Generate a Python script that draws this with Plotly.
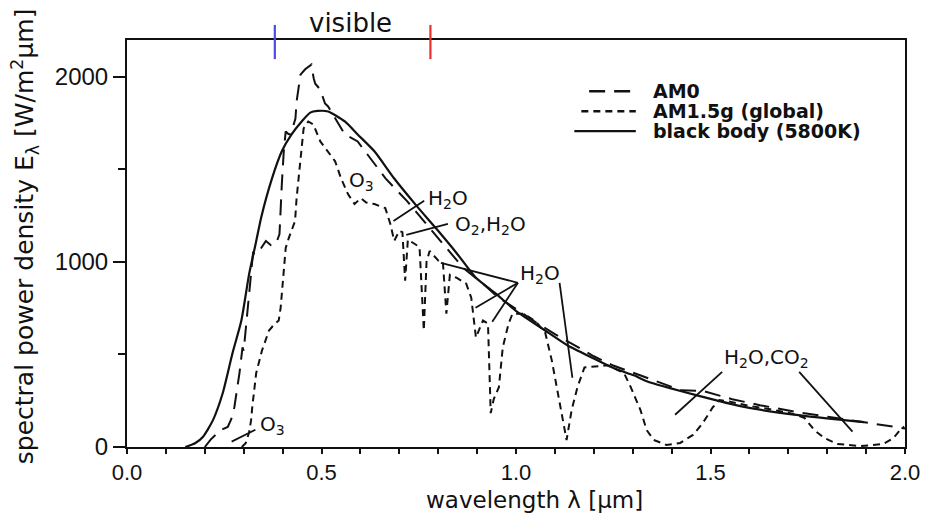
import plotly.graph_objects as go

# ---- spectral data (wavelength in µm, spectral power density in W/m²µm) ----
wl_am0 = [0.200, 0.215, 0.240, 0.259, 0.268, 0.276, 0.289, 0.294, 0.297, 0.300,
          0.307, 0.319, 0.324, 0.330, 0.340, 0.357, 0.370, 0.383, 0.392, 0.398,
          0.403, 0.408, 0.415, 0.421, 0.428, 0.433, 0.436, 0.446, 0.458, 0.466,
          0.474, 0.480, 0.484, 0.497, 0.509, 0.517, 0.542, 0.560, 0.593, 0.626,
          0.664, 0.720, 0.763, 0.814, 0.864, 0.915, 0.950, 1.000, 1.050, 1.100,
          1.150, 1.200, 1.250, 1.328, 1.425, 1.480, 1.556, 1.627, 1.724, 1.810,
          1.891, 1.962, 2.000]
e_am0 = [0, 40, 90, 108, 150, 215, 398, 505, 538, 520,
         683, 952, 1048, 1040, 1059, 1113, 1090, 1097, 1150, 1419,
         1597, 1704, 1690, 1688, 1740, 1774, 1866, 2011, 2040, 2054,
         2065, 1990, 1962, 1930, 1855, 1839, 1747, 1688, 1650, 1559,
         1452, 1328, 1220, 1097, 968, 882, 815, 745, 675, 610,
         548, 490, 440, 382, 306, 303, 258, 226, 188, 161,
         134, 113, 100]

wl_am15 = [0.295, 0.305, 0.314, 0.319, 0.322, 0.332, 0.347, 0.365, 0.378, 0.390,
           0.395, 0.403, 0.408, 0.416, 0.425, 0.432, 0.436, 0.446, 0.454, 0.466,
           0.479, 0.497, 0.517, 0.535, 0.550, 0.568, 0.585, 0.601, 0.615, 0.636,
           0.664, 0.677, 0.687, 0.700, 0.708, 0.715, 0.722, 0.738, 0.752, 0.763,
           0.770, 0.778, 0.801, 0.812, 0.821, 0.830, 0.847, 0.872, 0.885, 0.897,
           0.915, 0.928, 0.935, 0.943, 0.956, 0.966, 0.981, 0.991, 1.020, 1.050,
           1.075, 1.092, 1.108, 1.120, 1.130, 1.143, 1.158, 1.176, 1.200, 1.235,
           1.252, 1.278, 1.295, 1.320, 1.336, 1.354, 1.387, 1.422, 1.455, 1.480,
           1.506, 1.523, 1.550, 1.600, 1.650, 1.700, 1.725, 1.742, 1.767, 1.793,
           1.827, 1.886, 1.944, 1.970, 1.987, 1.998]
e_am15 = [0, 20, 80, 145, 215, 398, 521, 629, 661, 683,
          753, 952, 1075, 1129, 1183, 1220, 1344, 1543, 1720, 1758,
          1742, 1650, 1597, 1543, 1452, 1366, 1312, 1344, 1320, 1312,
          1290, 1204, 1113, 1167, 1160, 898, 1120, 1097, 1080, 629,
          1000, 1059, 1005, 1000, 720, 930, 914, 882, 806, 591,
          683, 667, 183, 260, 323, 538, 667, 720, 720, 680,
          618, 468, 290, 161, 38, 199, 323, 430, 435, 441,
          425, 398, 323, 199, 91, 38, 11, 22, 65, 129,
          215, 253, 245, 222, 205, 185, 170, 156, 91, 48,
          16, 5, 16, 48, 91, 110]

wl_bb = [0.150, 0.175, 0.195, 0.221, 0.246, 0.271, 0.294, 0.314, 0.332, 0.345,
         0.373, 0.398, 0.423, 0.449, 0.471, 0.490, 0.517, 0.560, 0.593, 0.636,
         0.687, 0.745, 0.796, 0.847, 0.897, 0.948, 0.999, 1.075, 1.133, 1.200,
         1.252, 1.303, 1.336, 1.463, 1.590, 1.726, 1.843, 1.894]
e_bb = [0, 20, 54, 145, 290, 505, 683, 935, 1110, 1240,
        1452, 1597, 1688, 1758, 1806, 1815, 1812, 1758, 1688, 1597,
        1450, 1301, 1177, 1048, 914, 828, 737, 629, 548, 478,
        425, 387, 355, 280, 215, 172, 145, 134]

x_ticks = [0.0, 0.5, 1.0, 1.5, 2.0]
y_ticks = [0, 1000, 2000]
visible_range = [0.38, 0.78]

series_names = ["AM0", "AM1.5g (global)", "black body (5800K)"]
DASH_AM0 = "16px,9px"
DASH_AM15 = "7px,5px"
INK = "#111111"

fig = go.Figure()
fig.add_trace(go.Scatter(x=wl_am0, y=e_am0, mode="lines", name=series_names[0],
                         line=dict(color=INK, width=2, dash=DASH_AM0), showlegend=False))
fig.add_trace(go.Scatter(x=wl_am15, y=e_am15, mode="lines", name=series_names[1],
                         line=dict(color=INK, width=2, dash=DASH_AM15), showlegend=False))
fig.add_trace(go.Scatter(x=wl_bb, y=e_bb, mode="lines", name=series_names[2],
                         line=dict(color=INK, width=2.2, shape="spline", smoothing=0.6),
                         showlegend=False))

shapes = []
# absorption-band leader lines
leaders = [
    ((0.269, 29), (0.330, 93)),
    ((0.685, 1221), (0.764, 1330)),
    ((0.718, 1146), (0.825, 1205)),
    ((0.807, 995), (1.005, 887)),
    ((0.896, 752), (1.005, 887)),
    ((0.939, 676), (1.005, 887)),
    ((1.112, 887), (1.145, 374)),
    ((1.409, 174), (1.530, 406)),
    ((1.728, 406), (1.865, 83)),
]
for (xa, ya), (xb, yb) in leaders:
    shapes.append(dict(type="line", xref="x", yref="y", x0=xa, y0=ya, x1=xb, y1=yb,
                       line=dict(color=INK, width=1.8)))

# visible-range markers across the top frame
for xv, col in zip(visible_range, ["#4b4be6", "#ec2f2f"]):
    shapes.append(dict(type="line", xref="x", yref="paper", x0=xv, x1=xv, y0=0.953, y1=1.037,
                       line=dict(color=col, width=2.2)))

# legend keys
legend_rows = [
    (series_names[0], DASH_AM0, 0.594, 0.655, 0.874),
    (series_names[1], DASH_AM15, 0.584, 0.654, 0.825),
    (series_names[2], "solid", 0.575, 0.654, 0.776),
]
annotations = []
for name, dash, xa, xb, yy in legend_rows:
    shapes.append(dict(type="line", xref="paper", yref="paper", x0=xa, x1=xb, y0=yy, y1=yy,
                       line=dict(color=INK, width=2.4, dash=dash)))
    annotations.append(dict(text="<b>%s</b>" % name, xref="paper", yref="paper", x=0.673, y=yy,
                            xanchor="left", yanchor="middle", showarrow=False,
                            font=dict(family="DejaVu Sans", size=19, color=INK)))

band_font = dict(family="DejaVu Sans", size=20, color=INK)
band_labels = [
    ("O<sub>3</sub>", 0.338, 120, "left"),
    ("O<sub>3</sub>", 0.604, 1437, "center"),
    ("H<sub>2</sub>O", 0.769, 1338, "left"),
    ("O<sub>2</sub>,H<sub>2</sub>O", 0.838, 1200, "left"),
    ("H<sub>2</sub>O", 1.006, 935, "left"),
    ("H<sub>2</sub>O,CO<sub>2</sub>", 1.645, 482, "center"),
]
for txt, xx, yy, anc in band_labels:
    annotations.append(dict(text=txt, x=xx, y=yy, xref="x", yref="y", xanchor=anc,
                            yanchor="middle", showarrow=False, font=band_font))

annotations.append(dict(text="visible", xref="x", yref="paper", x=0.574, y=1.042,
                        xanchor="center", yanchor="middle", showarrow=False,
                        font=dict(family="DejaVu Sans", size=26, color=INK)))
annotations.append(dict(text="wavelength λ [µm]", xref="paper", yref="paper", x=0.524, y=-0.129,
                        xanchor="center", yanchor="middle", showarrow=False,
                        font=dict(family="DejaVu Sans", size=23, color=INK)))
annotations.append(dict(text="spectral power density E<sub>λ</sub> [W/m<sup>2</sup>µm]",
                        xref="paper", yref="paper", x=-0.131, y=0.518, textangle=-90,
                        xanchor="center", yanchor="middle", showarrow=False,
                        font=dict(family="DejaVu Sans", size=25, color=INK)))

fig.update_layout(
    width=932, height=516,
    margin=dict(l=127, r=17, t=40, b=69),
    paper_bgcolor="white", plot_bgcolor="white",
    shapes=shapes, annotations=annotations,
    font=dict(family="Liberation Sans", color=INK),
)
fig.update_xaxes(
    range=[0, 2.0], tickvals=x_ticks, ticktext=["%.1f" % v for v in x_ticks],
    ticks="outside", ticklen=5, tickwidth=2, tickcolor=INK,
    minor=dict(dtick=0.1, ticks="outside", ticklen=5, tickwidth=1.5, tickcolor=INK),
    showline=True, linewidth=2, linecolor=INK, mirror=True,
    showgrid=False, zeroline=False,
    tickfont=dict(family="Liberation Sans", size=22, color=INK),
)
fig.update_yaxes(
    range=[0, 2198], tickvals=y_ticks,
    ticks="outside", ticklen=12, tickwidth=2, tickcolor=INK,
    minor=dict(dtick=500, ticks="outside", ticklen=7, tickwidth=1.5, tickcolor=INK),
    showline=True, linewidth=2, linecolor=INK, mirror=True,
    showgrid=False, zeroline=False,
    tickfont=dict(family="Liberation Sans", size=24, color=INK),
)

fig.write_html("out.html")
